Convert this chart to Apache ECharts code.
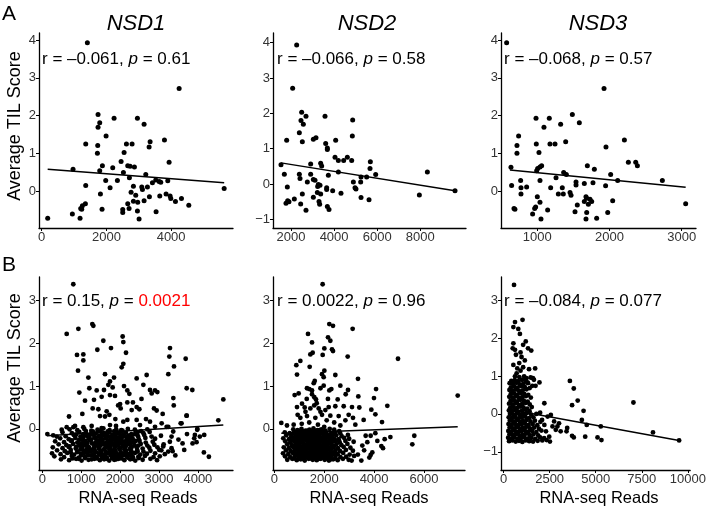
<!DOCTYPE html>
<html><head><meta charset="utf-8">
<script src="https://cdn.jsdelivr.net/npm/echarts@6/dist/echarts.min.js"></script>
<style>html,body{margin:0;padding:0;background:#fff}#c{width:709px;height:511px}</style>
</head><body><div id="c"></div>
<script>
// ---------- DATA (x = RNA-seq reads, y = average TIL score) ----------
const panelTitles = ["NSD1", "NSD2", "NSD3"];
const statsA = ["r = –0.061, {i|p} = 0.61", "r = –0.066, {i|p} = 0.58", "r = –0.068, {i|p} = 0.57"];
const statsB = ["r = 0.15, {i|p} = {red|0.0021}", "r = 0.0022, {i|p} = 0.96", "r = –0.084, {i|p} = 0.077"];
const yTitle = "Average TIL Score";
const xTitle = "RNA-seq Reads";

const ticksX_A1 = [0, 2000, 4000];
const ticksX_A2 = [2000, 4000, 6000, 8000];
const ticksX_A3 = [1000, 2000, 3000];
const ticksX_B1 = [0, 1000, 2000, 3000, 4000];
const ticksX_B2 = [0, 2000, 4000, 6000];
const ticksX_B3 = [0, 2500, 5000, 7500, 10000];
const ticksY_A1 = [0, 1, 2, 3, 4];
const ticksY_A2 = [-1, 0, 1, 2, 3, 4];
const ticksY_A3 = [0, 1, 2, 3, 4];
const ticksY_B1 = [0, 1, 2, 3];
const ticksY_B2 = [0, 1, 2, 3];
const ticksY_B3 = [-1, 0, 1, 2, 3];

const nsd1A = [[1412,3.93],[4248,2.72],[1742,2.03],[1794,1.81],[1742,1.69],[2237,1.93],[2959,1.93],[3165,1.77],[1990,1.46],[1361,1.25],[1732,1.21],[2619,1.25],[2794,1.25],[3351,1.31],[3320,1.17],[3794,1.35],[1722,1.0],[2547,1.02],[3938,0.76],[969,0.58],[1876,0.67],[1794,0.54],[2196,0.62],[2454,0.78],[2660,0.67],[2732,0.66],[2866,0.64],[3217,0.44],[2526,0.49],[2711,0.35],[1979,0.28],[2340,0.28],[2114,0.09],[1361,0.15],[1815,-0.08],[2763,-0.03],[2835,0.13],[3093,0.11],[3114,0.04],[3268,0.11],[3423,0.22],[3526,0.29],[3630,0.25],[3680,0.23],[3897,0.27],[3330,-0.15],[3650,-0.13],[3845,-0.08],[3969,-0.13],[3990,-0.2],[4320,-0.2],[4134,-0.28],[4547,-0.38],[5640,0.07],[2907,-0.11],[2835,-0.27],[2969,-0.3],[3165,-0.26],[2660,-0.34],[2701,-0.46],[2959,-0.53],[3010,-0.74],[2505,-0.49],[2505,-0.57],[1866,-0.48],[3536,-0.55],[1351,-0.34],[1258,-0.39],[1237,-0.48],[1206,-0.46],[948,-0.61],[1186,-0.72],[186,-0.72]];
const nsd2A = [[2263,3.93],[2077,2.71],[2495,2.03],[2696,1.92],[2464,1.80],[2572,1.69],[3578,1.92],[2387,1.45],[1799,1.24],[2526,1.20],[3037,1.27],[3160,1.31],[3609,1.15],[3686,1.02],[3686,0.98],[4073,1.24],[4862,1.81],[4846,1.36],[4042,0.76],[4197,0.67],[4444,0.67],[4614,0.76],[4816,0.67],[5682,0.63],[5666,0.44],[5929,0.27],[8327,0.34],[9611,-0.19],[7956,-0.31],[1536,0.55],[1691,0.28],[1830,-0.08],[1846,-0.47],[1768,-0.54],[1907,-0.5],[2155,-0.42],[2387,0.28],[2418,0.16],[2526,-0.28],[2449,-0.56],[2696,-0.74],[2758,0.06],[2913,0.57],[2913,0.28],[3037,0.13],[3114,0.11],[3238,-0.07],[3269,-0.01],[3377,0.59],[3423,0.51],[3346,-0.03],[3222,-0.24],[3377,-0.28],[3037,-0.37],[3300,-0.49],[3330,-0.57],[3733,0.25],[3655,-0.1],[3655,-0.15],[3686,-0.63],[3764,-0.72],[3934,-0.19],[4197,0.34],[4320,-0.26],[4893,0.06],[4970,-0.1],[5016,-0.14],[5233,0.06],[5512,0.2],[5249,0.2],[5249,-0.38],[5620,-0.44]];
const nsd3A = [[575,3.93],[1924,2.72],[982,1.93],[1166,1.93],[1485,2.03],[1582,1.81],[1323,1.77],[1092,1.69],[741,1.46],[718,1.21],[986,1.25],[1175,1.25],[1245,1.25],[1393,1.31],[2206,1.35],[1951,1.17],[718,1.0],[1023,1.02],[2261,0.76],[2363,0.76],[2386,0.67],[2732,0.28],[3055,-0.34],[635,0.63],[991,0.54],[1005,0.6],[1037,0.64],[1060,0.67],[1693,0.67],[1790,0.58],[2016,0.44],[2113,0.28],[1365,0.49],[1402,0.44],[1536,0.24],[1536,0.16],[1651,0.2],[1771,0.22],[1037,0.28],[1259,0.35],[769,0.28],[644,0.15],[774,0.09],[852,0.11],[1185,0.09],[1346,0.09],[1946,0.14],[1291,-0.08],[1360,-0.08],[1453,-0.04],[1467,-0.11],[774,-0.08],[1000,-0.15],[1037,-0.3],[977,-0.42],[935,-0.61],[963,-0.46],[690,-0.48],[677,-0.46],[1051,-0.74],[1143,-0.5],[1554,-0.37],[1522,-0.55],[1651,-0.28],[1674,-0.15],[1684,-0.19],[1707,-0.35],[1730,-0.22],[1753,-0.28],[1684,-0.57],[1674,-0.74],[1822,-0.72],[1975,-0.57],[2044,-0.26]];

const nsd1B = [[797,3.38],[627,2.22],[927,2.34],[1286,2.45],[1312,2.41],[2066,2.16],[2083,2.03],[1569,2.06],[1415,1.85],[1766,1.89],[2152,1.78],[892,1.73],[1055,1.74],[1055,1.6],[918,1.36],[2083,1.52],[2041,1.44],[3283,1.89],[3266,1.69],[3386,1.46],[3686,1.64],[3240,1.28],[1184,1.2],[1612,1.28],[2683,1.26],[2426,1.18],[1844,1.2],[1740,1.11],[1698,1.03],[1809,0.97],[2101,1.0],[1209,0.95],[952,0.85],[1398,0.9],[1586,0.91],[2186,0.9],[2238,0.82],[2598,1.03],[2769,0.91],[2898,0.9],[2958,0.86],[2812,0.83],[3712,0.95],[3857,0.91],[3369,0.72],[4654,0.69],[1098,0.66],[1329,0.68],[1526,0.75],[1740,0.79],[1869,0.77],[2186,0.62],[2015,0.48],[2298,0.44],[2426,0.51],[2495,0.46],[1295,0.48],[1441,0.46],[1655,0.41],[1724,0.33],[1612,0.29],[1484,0.30],[2872,0.48],[2940,0.43],[3095,0.35],[3712,0.31],[687,0.29],[1029,0.35],[1878,0.23],[2083,0.17],[2186,0.21],[2426,0.21],[2512,0.09],[2666,0.23],[2769,0.17],[2898,0.05],[3069,0.13],[3197,0.05],[3558,0.13],[3986,0.0],[4526,0.2],[627,0.04],[798,0.04],[841,0.07],[1055,0.04],[1269,0.07],[1526,0.02],[1740,0.09],[1895,0.07],[3580,0.13],[3709,0.31],[2000,0.58],[2330,0.62],[1950,0.55],[2550,0.7],[3380,0.55],
[3983,-0.02],[3923,-0.14],[3906,-0.22],[3863,-0.34],[3966,-0.31],[4051,-0.18],[4163,-0.14],[4154,-0.55],[4283,-0.65],[3606,-0.34],[3649,-0.49],[3366,-0.06],[3323,-0.18],[3238,0.05],[3280,-0.3],[3323,-0.45],[3238,-0.53],[3109,-0.41],[3006,-0.49],[3500,-0.25],[3420,-0.62],[3720,-0.12],[130,-0.12],[369,-0.18],[498,-0.02],
[480,-0.71],[690,-0.73],[870,-0.70],[1010,-0.74],[1190,-0.72],[1340,-0.70],[1480,-0.73],[1590,-0.71],[1720,-0.74],[1850,-0.72],[1960,-0.70],[2110,-0.73],[2260,-0.71],[2390,-0.74],[2580,-0.72],[2780,-0.70],[2950,-0.73],
[310,-0.64],[560,-0.66],[760,-0.63],[940,-0.67],[1100,-0.65],[1250,-0.62],[1400,-0.66],[1530,-0.64],[1660,-0.67],[1790,-0.63],[1910,-0.66],[2040,-0.64],[2180,-0.62],[2330,-0.66],[2470,-0.65],[2640,-0.63],[2860,-0.66],[3020,-0.64],
[250,-0.57],[470,-0.59],[640,-0.56],[820,-0.6],[990,-0.58],[1150,-0.55],[1310,-0.59],[1450,-0.57],[1580,-0.6],[1700,-0.56],[1830,-0.58],[1960,-0.61],[2090,-0.57],[2230,-0.59],[2380,-0.56],[2520,-0.6],[2690,-0.58],[2900,-0.57],[3150,-0.59],
[380,-0.5],[580,-0.52],[730,-0.49],[900,-0.53],[1060,-0.51],[1210,-0.48],[1360,-0.52],[1500,-0.5],[1630,-0.53],[1760,-0.49],[1880,-0.51],[2010,-0.54],[2150,-0.5],[2290,-0.52],[2440,-0.49],[2600,-0.53],[2780,-0.51],[3060,-0.5],[3350,-0.52],
[270,-0.43],[520,-0.45],[680,-0.42],[860,-0.46],[1020,-0.44],[1170,-0.41],[1320,-0.45],[1460,-0.43],[1600,-0.46],[1730,-0.42],[1860,-0.44],[1990,-0.47],[2120,-0.43],[2270,-0.45],[2420,-0.42],[2580,-0.46],[2750,-0.44],[2960,-0.43],
[420,-0.36],[620,-0.38],[790,-0.35],[950,-0.39],[1110,-0.37],[1280,-0.34],[1420,-0.38],[1560,-0.36],[1690,-0.39],[1820,-0.35],[1950,-0.37],[2080,-0.4],[2230,-0.36],[2370,-0.38],[2530,-0.35],[2700,-0.39],[2880,-0.37],[3120,-0.36],
[330,-0.29],[560,-0.31],[740,-0.28],[900,-0.32],[1070,-0.3],[1230,-0.27],[1380,-0.31],[1520,-0.29],[1650,-0.32],[1780,-0.28],[1900,-0.3],[2040,-0.33],[2190,-0.29],[2340,-0.31],[2500,-0.28],[2660,-0.32],[2840,-0.3],
[460,-0.22],[680,-0.24],[850,-0.21],[1020,-0.25],[1190,-0.23],[1340,-0.2],[1490,-0.24],[1620,-0.22],[1760,-0.25],[1890,-0.21],[2030,-0.23],[2170,-0.26],[2320,-0.22],[2480,-0.24],[2650,-0.21],[2900,-0.23],
[280,-0.15],[600,-0.17],[810,-0.14],[980,-0.18],[1140,-0.16],[1300,-0.13],[1450,-0.17],[1590,-0.15],[1730,-0.18],[1870,-0.14],[2010,-0.16],[2160,-0.19],[2300,-0.15],[2460,-0.17],[2620,-0.14],[2810,-0.18],[3050,-0.16],
[520,-0.08],[760,-0.1],[950,-0.07],[1120,-0.11],[1270,-0.09],[1430,-0.06],[1580,-0.1],[1720,-0.08],[1860,-0.11],[2000,-0.07],[2150,-0.09],[2290,-0.12],[2450,-0.08],[2600,-0.1],[2760,-0.07],
[700,-0.01],[900,-0.03],[1080,0.0],[1260,-0.04],[1420,-0.02],[1570,0.01],[1730,-0.03],[1900,-0.01],[2060,-0.04],[2200,0.0],[2380,-0.02],[2540,-0.05],[2700,-0.01],
[780,-0.69],[940,-0.7],[1100,-0.68],[1270,-0.71],[1410,-0.69],[1540,-0.67],[1650,-0.7],[1790,-0.68],[1900,-0.71],[2030,-0.69],[2190,-0.67],[2320,-0.7],[2480,-0.68],
[730,-0.55],[900,-0.54],[1070,-0.56],[1230,-0.53],[1380,-0.55],[1510,-0.54],[1640,-0.56],[1770,-0.53],[1890,-0.55],[2020,-0.57],[2160,-0.54],[2300,-0.56],[2450,-0.53],
[700,-0.41],[870,-0.42],[1040,-0.4],[1200,-0.43],[1350,-0.41],[1490,-0.39],[1630,-0.42],[1760,-0.4],[1890,-0.41],[2020,-0.43],[2150,-0.4],[2300,-0.42],[2470,-0.39],
[760,-0.27],[940,-0.26],[1110,-0.28],[1260,-0.25],[1410,-0.27],[1550,-0.26],[1690,-0.28],[1830,-0.25],[1960,-0.27],[2100,-0.29],[2250,-0.26],[2400,-0.28],
[870,-0.13],[1050,-0.12],[1210,-0.14],[1370,-0.11],[1520,-0.13],[1660,-0.12],[1800,-0.14],[1940,-0.11],[2080,-0.13],[2230,-0.15],[2380,-0.12],
[1000,-0.62],[1170,-0.61],[1330,-0.63],[1480,-0.6],[1620,-0.62],[1750,-0.61],[1870,-0.63],[2000,-0.6],[2130,-0.62],[2270,-0.61],
[980,-0.48],[1140,-0.47],[1300,-0.49],[1450,-0.46],[1590,-0.48],[1720,-0.47],[1850,-0.49],[1980,-0.46],[2110,-0.48],[2250,-0.47],
[1000,-0.34],[1160,-0.33],[1320,-0.35],[1470,-0.32],[1610,-0.34],[1740,-0.33],[1870,-0.35],[2000,-0.32],[2140,-0.34],[2280,-0.33],
[1050,-0.2],[1210,-0.19],[1370,-0.21],[1520,-0.18],[1660,-0.2],[1800,-0.19],[1940,-0.21],[2080,-0.18],[2220,-0.2],
[1120,-0.05],[1300,-0.06],[1500,-0.04],[1680,-0.06],[1850,-0.05],[2030,-0.03]];

const nsd2B = [[1937,3.38],[2205,2.45],[2352,2.41],[3140,2.34],[1351,2.22],[2153,2.14],[2246,2.06],[1511,2.02],[2006,1.88],[2313,1.86],[2353,1.82],[1538,1.78],[1445,1.74],[1939,1.73],[2941,1.69],[4958,1.64],[1044,1.59],[883,1.49],[1418,1.45],[2006,1.36],[910,1.27],[2446,1.26],[1912,1.28],[1979,1.21],[1620,1.12],[3354,1.17],[1580,1.07],[1979,1.01],[1310,0.95],[1404,0.93],[1511,0.9],[2205,0.9],[2286,0.93],[2647,1.01],[2954,0.91],[4078,0.93],[816,0.79],[976,0.83],[1511,0.81],[1604,0.74],[1671,0.69],[2540,0.69],[2861,0.81],[3367,0.76],[3995,0.72],[7351,0.78],[910,0.51],[1111,0.59],[1218,0.5],[1445,0.48],[1779,0.48],[2046,0.44],[2180,0.51],[2446,0.53],[2781,0.53],[3114,0.51],[3408,0.5],[3889,0.45],[4530,0.54],[4051,0.34],[936,0.33],[1044,0.26],[1311,0.3],[1645,0.26],[1912,0.33],[2246,0.31],[2580,0.3],[2981,0.33],[3154,0.26],[3581,0.21],[4317,0.16],[281,0.14],[508,0.08],[776,0.1],[2647,0.08],[3248,0.1],[1700,0.6],[1850,0.4],[1250,0.4],[2100,0.2],[1400,0.15],[1100,0.12],[2400,0.15],[1750,0.1],[2000,0.05],[2850,0.2],[1600,0.55],[1850,0.95],[2150,0.7],[1300,0.7],
[4652,-0.19],[5611,-0.16],[5531,-0.36],[4424,-0.24],[4290,-0.4],[4130,-0.28],[4357,-0.45],[3862,-0.16],[3662,-0.16],[3728,-0.31],[3528,-0.39],[3809,-0.67],[3862,-0.61],[3929,-0.55],[3488,-0.74],[4050,-0.1],[3600,-0.5],[3350,-0.6],
[520,-0.72],[720,-0.7],[900,-0.73],[1060,-0.71],[1220,-0.74],[1380,-0.7],[1540,-0.72],[1700,-0.73],[1860,-0.7],[2020,-0.72],[2190,-0.74],[2360,-0.71],[2540,-0.73],[2750,-0.7],[2980,-0.72],[3100,-0.74],
[430,-0.64],[640,-0.66],[820,-0.63],[980,-0.67],[1140,-0.65],[1300,-0.62],[1460,-0.66],[1620,-0.64],[1780,-0.67],[1940,-0.63],[2100,-0.66],[2270,-0.64],[2450,-0.62],[2650,-0.66],[2880,-0.65],[3200,-0.63],
[350,-0.57],[560,-0.59],[740,-0.56],[900,-0.6],[1060,-0.58],[1220,-0.55],[1380,-0.59],[1540,-0.57],[1700,-0.6],[1860,-0.56],[2020,-0.58],[2180,-0.61],[2350,-0.57],[2540,-0.59],[2760,-0.56],[3020,-0.6],
[470,-0.5],[660,-0.52],[820,-0.49],[980,-0.53],[1140,-0.51],[1300,-0.48],[1460,-0.52],[1620,-0.5],[1780,-0.53],[1940,-0.49],[2100,-0.51],[2270,-0.54],[2450,-0.5],[2640,-0.52],[2870,-0.49],[3150,-0.51],
[380,-0.43],[580,-0.45],[750,-0.42],[910,-0.46],[1070,-0.44],[1230,-0.41],[1390,-0.45],[1550,-0.43],[1710,-0.46],[1870,-0.42],[2030,-0.44],[2190,-0.47],[2360,-0.43],[2550,-0.45],[2780,-0.42],[3050,-0.44],
[520,-0.36],[700,-0.38],[860,-0.35],[1020,-0.39],[1180,-0.37],[1340,-0.34],[1500,-0.38],[1660,-0.36],[1820,-0.39],[1980,-0.35],[2140,-0.37],[2310,-0.4],[2490,-0.36],[2690,-0.38],[2930,-0.35],
[440,-0.29],[640,-0.31],[800,-0.28],[960,-0.32],[1120,-0.3],[1280,-0.27],[1440,-0.31],[1600,-0.29],[1760,-0.32],[1920,-0.28],[2080,-0.3],[2250,-0.33],[2430,-0.29],[2620,-0.31],[2850,-0.28],[3180,-0.3],
[360,-0.22],[590,-0.24],[760,-0.21],[920,-0.25],[1080,-0.23],[1240,-0.2],[1400,-0.24],[1560,-0.22],[1720,-0.25],[1880,-0.21],[2040,-0.23],[2210,-0.26],[2390,-0.22],[2580,-0.24],[2800,-0.21],[3000,-0.23],
[480,-0.15],[680,-0.17],[850,-0.14],[1010,-0.18],[1170,-0.16],[1330,-0.13],[1490,-0.17],[1650,-0.15],[1810,-0.18],[1970,-0.14],[2130,-0.16],[2300,-0.19],[2480,-0.15],[2700,-0.17],[2950,-0.14],
[420,-0.08],[620,-0.1],[800,-0.07],[960,-0.11],[1120,-0.09],[1280,-0.06],[1440,-0.1],[1600,-0.08],[1760,-0.11],[1920,-0.07],[2080,-0.09],[2250,-0.12],[2440,-0.08],[2640,-0.1],
[760,-0.01],[930,-0.03],[1090,0.0],[1250,-0.04],[1410,-0.02],[1570,0.01],[1730,-0.03],[1890,-0.01],[2050,-0.04],[2220,0.0],[2400,-0.02],[2600,-0.05],
[800,-0.69],[980,-0.68],[1140,-0.7],[1300,-0.67],[1460,-0.69],[1620,-0.68],[1780,-0.7],[1940,-0.67],[2100,-0.69],[2270,-0.71],[2450,-0.68],
[820,-0.55],[980,-0.54],[1140,-0.56],[1300,-0.53],[1460,-0.55],[1620,-0.54],[1780,-0.56],[1940,-0.53],[2100,-0.55],[2270,-0.57],[2440,-0.54],
[780,-0.41],[950,-0.4],[1110,-0.42],[1270,-0.39],[1430,-0.41],[1590,-0.4],[1750,-0.42],[1910,-0.39],[2070,-0.41],[2230,-0.43],[2400,-0.4],
[720,-0.27],[880,-0.26],[1040,-0.28],[1200,-0.25],[1360,-0.27],[1520,-0.26],[1680,-0.28],[1840,-0.25],[2000,-0.27],[2160,-0.29],[2330,-0.26],[2520,-0.27],
[700,-0.13],[880,-0.12],[1040,-0.14],[1200,-0.11],[1360,-0.13],[1520,-0.12],[1680,-0.14],[1840,-0.11],[2000,-0.13],[2170,-0.15],[2350,-0.12],
[860,-0.62],[1020,-0.61],[1180,-0.63],[1340,-0.6],[1500,-0.62],[1660,-0.61],[1820,-0.63],[1980,-0.6],[2140,-0.62],[2300,-0.61],
[840,-0.48],[1000,-0.47],[1160,-0.49],[1320,-0.46],[1480,-0.48],[1640,-0.47],[1800,-0.49],[1960,-0.46],[2120,-0.48],[2290,-0.47],
[860,-0.34],[1020,-0.33],[1180,-0.35],[1340,-0.32],[1500,-0.34],[1660,-0.33],[1820,-0.35],[1980,-0.32],[2140,-0.34],[2300,-0.33],
[900,-0.2],[1060,-0.19],[1220,-0.21],[1380,-0.18],[1540,-0.2],[1700,-0.19],[1860,-0.21],[2020,-0.18],[2190,-0.2],
[1000,-0.05],[1170,-0.06],[1340,-0.04],[1500,-0.06],[1660,-0.05],[1820,-0.03],[1990,-0.06]];

const nsd3B = [[568,3.40],[621,2.42],[1030,2.48],[533,2.29],[800,2.24],[887,2.11],[1205,1.91],[1063,1.82],[533,1.86],[621,1.69],[1503,1.67],[1328,1.73],[921,1.62],[1153,1.41],[533,1.29],[745,1.20],[710,1.07],[1714,1.20],[921,1.14],[1240,0.94],[1594,0.94],[1948,0.83],[1328,0.81],[3598,0.87],[3809,0.67],[4022,0.35],[3717,0.23],[4340,0.08],[2213,0.28],[2566,-0.03],[1983,0.03],[4247,-0.16],[4513,-0.29],[5274,-0.33],[3717,-0.58],[3809,-0.62],[4429,-0.6],[5097,-0.62],[5309,-0.69],[2743,-0.2],[2920,-0.33],[3009,-0.25],[3097,-0.46],[2832,-0.42],[2655,-0.33],[2478,-0.6],[2338,-0.69],[2515,-0.73],[3452,-0.37],[3416,-0.46],[2301,-0.46],[2213,-0.29],[2089,-0.16],[2390,-0.07],[7044,0.30],[8105,-0.49],[9522,-0.70],
[497,1.73],[673,1.56],[975,1.50],[851,1.34],[1063,1.23],[1382,1.18],[621,0.99],[851,0.97],[1116,0.99],[1470,0.96],[1647,0.90],[1559,0.74],[1736,0.74],
[300,-0.72],[480,-0.7],[660,-0.73],[840,-0.71],[1020,-0.74],[1200,-0.7],[1390,-0.72],[1600,-0.73],[1850,-0.71],[2100,-0.7],
[250,-0.63],[420,-0.65],[590,-0.62],[760,-0.66],[940,-0.64],[1120,-0.61],[1300,-0.65],[1500,-0.63],[1720,-0.66],[1980,-0.62],[2200,-0.64],
[320,-0.54],[500,-0.56],[680,-0.53],[860,-0.57],[1040,-0.55],[1220,-0.52],[1410,-0.56],[1620,-0.54],[1880,-0.57],
[260,-0.45],[430,-0.47],[610,-0.44],[790,-0.48],[970,-0.46],[1150,-0.43],[1340,-0.47],[1550,-0.45],[1780,-0.48],[2050,-0.44],
[330,-0.36],[510,-0.38],[690,-0.35],[870,-0.39],[1050,-0.37],[1230,-0.34],[1430,-0.38],[1660,-0.36],[1920,-0.39],
[270,-0.27],[440,-0.29],[620,-0.26],[800,-0.3],[980,-0.28],[1160,-0.25],[1360,-0.29],[1580,-0.27],[1830,-0.3],
[340,-0.18],[520,-0.2],[700,-0.17],[880,-0.21],[1060,-0.19],[1250,-0.16],[1460,-0.2],[1700,-0.18],[2000,-0.21],
[280,-0.09],[450,-0.11],[630,-0.08],[810,-0.12],[990,-0.1],[1170,-0.07],[1380,-0.11],[1620,-0.09],
[350,0.0],[530,-0.02],[710,0.01],[890,-0.03],[1070,-0.01],[1270,0.02],[1500,-0.02],[1780,0.0],
[290,0.09],[460,0.07],[640,0.1],[820,0.06],[1000,0.08],[1190,0.11],[1410,0.07],
[360,0.16],[540,0.18],[720,0.15],[900,0.19],[1080,0.17],[1280,0.14],[1530,0.18],
[300,0.27],[470,0.25],[650,0.28],[830,0.24],[1010,0.26],[1200,0.29],[1420,0.25],
[380,0.34],[560,0.36],[740,0.33],[920,0.37],[1100,0.35],[1310,0.32],
[310,0.45],[480,0.43],[660,0.46],[840,0.42],[1020,0.44],[1220,0.47],[1480,0.43],
[390,0.52],[570,0.54],[750,0.51],[930,0.55],[1120,0.53],[1340,0.5],
[320,0.63],[490,0.61],[670,0.64],[850,0.6],[1040,0.62],[1250,0.65],
[400,0.7],[580,0.72],[760,0.69],[950,0.73],[1150,0.71],[1420,0.68],
[330,0.81],[510,0.79],[690,0.82],[880,0.78],[1080,0.8],[1300,0.83],
[420,0.87],[610,0.89],[800,0.86],[1000,0.9],[1200,0.88]];

// fitted regression lines (end points)
const fitA1 = [[186,0.58],[5640,0.22]];
const fitA2 = [[1536,0.60],[9611,-0.19]];
const fitA3 = [[621,0.56],[3055,0.10]];
const fitB1 = [[130,-0.16],[4654,0.09]];
const fitB2 = [[281,-0.10],[7351,0.05]];
const fitB3 = [[250,0.12],[9522,-0.70]];

// ---------- LAYOUT ----------
const FONT = "'Liberation Sans', Arial, Helvetica, sans-serif";
const panels = [
  {pts:nsd1A, fit:fitA1, xt:ticksX_A1, yt:ticksY_A1, xr:[-83,5913], yr:[-0.98,4.19], g:{left:39,top:33,width:194,height:195}, sym:5},
  {pts:nsd2A, fit:fitA2, xt:ticksX_A2, yt:ticksY_A2, xr:[1165,10120], yr:[-1.24,4.27], g:{left:273,top:33,width:193,height:195}, sym:5},
  {pts:nsd3A, fit:fitA3, xt:ticksX_A3, yt:ticksY_A3, xr:[497,3198], yr:[-0.98,4.19], g:{left:501,top:33,width:195,height:195}, sym:5},
  {pts:nsd1B, fit:fitB1, xt:ticksX_B1, yt:ticksY_B1, xr:[-85,4903], yr:[-0.96,3.55], g:{left:39,top:277,width:194,height:193}, sym:4.8},
  {pts:nsd2B, fit:fitB2, xt:ticksX_B2, yt:ticksY_B2, xr:[-52,7643], yr:[-0.96,3.55], g:{left:273,top:277,width:192,height:193}, sym:4.8},
  {pts:nsd3B, fit:fitB3, xt:ticksX_B3, yt:ticksY_B3, xr:[-138,10122], yr:[-1.48,3.61], g:{left:501,top:277,width:193,height:193}, sym:4.8}
];

const fmt = v => (v < 0 ? '\u2212' + Math.abs(v) : String(v));
const grid = [], xAxis = [], yAxis = [], series = [];
panels.forEach((p, i) => {
  grid.push(Object.assign({containLabel:false}, p.g));
  const axBase = (ticks) => ({
    axisLine:{show:true, onZero:false, lineStyle:{color:'#000', width:1.3}},
    axisTick:{show:true, length:3, customValues:ticks, lineStyle:{color:'#000', width:1}},
    axisLabel:{customValues:ticks, formatter:fmt, color:'#333', fontSize:13, fontFamily:FONT, margin:3},
    splitLine:{show:false}
  });
  xAxis.push(Object.assign({type:'value', gridIndex:i, min:p.xr[0], max:p.xr[1]}, axBase(p.xt)));
  yAxis.push(Object.assign({type:'value', gridIndex:i, min:p.yr[0], max:p.yr[1]}, axBase(p.yt)));
  series.push({type:'scatter', xAxisIndex:i, yAxisIndex:i, data:p.pts, symbolSize:p.sym,
    itemStyle:{color:'#000', opacity:1}, silent:true, z:2});
  series.push({type:'line', xAxisIndex:i, yAxisIndex:i, data:p.fit, symbol:'none',
    lineStyle:{color:'#000', width:1.5}, silent:true, z:3});
});

const graphic = [];
const txt = (x, y, text, size, opts) => graphic.push(Object.assign({type:'text', x:x, y:y, silent:true,
  style:Object.assign({text:text, fontSize:size, fontFamily:FONT, fill:'#000', align:'left', verticalAlign:'middle'}, (opts && opts.style) || {})},
  (opts && opts.el) || {}));
txt(2, 14, 'A', 21);
txt(2, 265, 'B', 21);
const titleX = [136, 367, 598];
panelTitles.forEach((t, i) => txt(titleX[i], 24, t, 22, {style:{align:'center', fontStyle:'italic'}}));
const rich = {i:{fontStyle:'italic', fontSize:17, fontFamily:FONT, fill:'#000'}, red:{fontSize:17, fontFamily:FONT, fill:'#ff0000'}};
const statAX = [42, 277, 504];
statsA.forEach((t, i) => txt(statAX[i], 59, t, 17, {style:{rich:rich}}));
statsB.forEach((t, i) => txt(statAX[i], 301, t, 17, {style:{rich:rich}}));
[126, 368].forEach(y => txt(15, y, yTitle, 18, {style:{align:'center'}, el:{rotation:Math.PI/2}}));
[138, 369, 599].forEach(x => txt(x, 498, xTitle, 16.5, {style:{align:'center'}}));

const chart = echarts.init(document.getElementById('c'), null, {renderer:'canvas'});
chart.setOption({animation:false, backgroundColor:'#fff', grid, xAxis, yAxis, series, graphic});
</script></body></html>
